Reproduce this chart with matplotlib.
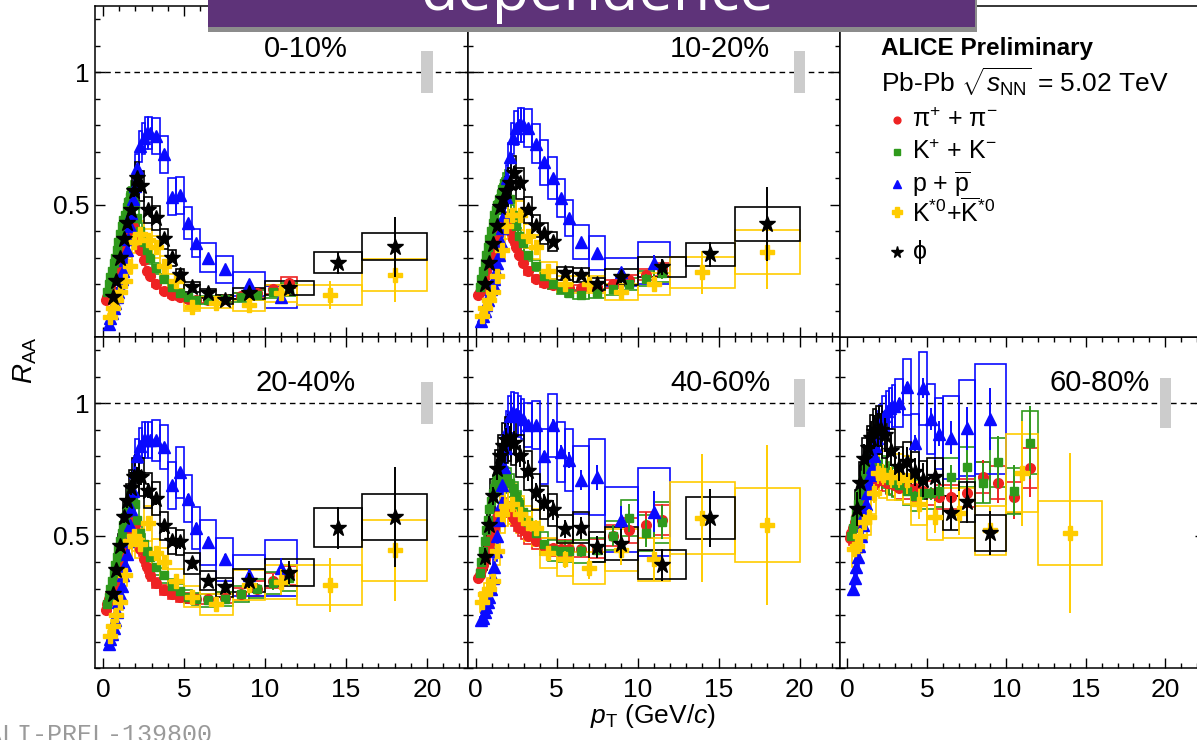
import numpy as np
import matplotlib.pyplot as plt
from matplotlib.patches import Rectangle
from matplotlib.ticker import MultipleLocator

plt.rcParams['font.family'] = ['Liberation Sans', 'DejaVu Sans']
plt.rcParams['mathtext.fontset'] = 'custom'
plt.rcParams['mathtext.rm'] = 'Liberation Sans'
plt.rcParams['mathtext.it'] = 'Liberation Sans:italic'
plt.rcParams['mathtext.bf'] = 'Liberation Sans:bold'
plt.rcParams['mathtext.sf'] = 'Liberation Sans'

nan = np.nan
centralities = ['0-10%', '10-20%', '20-40%', '40-60%', '60-80%']
norm_unc = [0.08, 0.08, 0.08, 0.09, 0.095]      # global normalisation uncertainty
stat_scale = [1.0, 1.0, 1.0, 1.3, 1.8]

# ---- pi+ + pi- ----
pi_edges = [0.1, 0.2, 0.3, 0.4, 0.5, 0.6, 0.7, 0.8, 0.9, 1.0, 1.1, 1.2, 1.3, 1.4, 1.5, 1.6, 1.7, 1.8, 1.9, 2.0,
            2.2, 2.4, 2.6, 2.8, 3.0, 3.5, 4.0, 4.5, 5.0, 5.5, 6.0, 7.0, 8.0, 9.0, 10.0, 11.0, 12.0]
raa_pi = [
    [0.14, 0.15, 0.17, 0.19, 0.21, 0.23, 0.25, 0.27, 0.29, 0.31, 0.33, 0.35, 0.37, 0.39, 0.41, 0.42, 0.43, 0.42, 0.40,
     0.37, 0.33, 0.29, 0.25, 0.23, 0.20, 0.175, 0.16, 0.15, 0.145, 0.14, 0.14, 0.145, 0.155, 0.165, 0.18, 0.205],
    [0.16, 0.17, 0.19, 0.21, 0.23, 0.25, 0.27, 0.29, 0.31, 0.33, 0.35, 0.37, 0.39, 0.41, 0.42, 0.43, 0.44, 0.44, 0.43,
     0.40, 0.37, 0.34, 0.31, 0.28, 0.25, 0.22, 0.205, 0.195, 0.19, 0.185, 0.185, 0.19, 0.20, 0.215, 0.235, 0.255],
    [0.22, 0.24, 0.26, 0.28, 0.30, 0.32, 0.34, 0.36, 0.38, 0.40, 0.42, 0.44, 0.46, 0.48, 0.50, 0.52, 0.54, 0.55, 0.54,
     0.50, 0.45, 0.41, 0.38, 0.35, 0.32, 0.295, 0.28, 0.27, 0.265, 0.26, 0.26, 0.265, 0.28, 0.30, 0.33, 0.35],
    [0.34, 0.35, 0.37, 0.39, 0.41, 0.43, 0.45, 0.47, 0.49, 0.51, 0.53, 0.55, 0.57, 0.58, 0.59, 0.60, 0.61, 0.61, 0.60,
     0.59, 0.57, 0.55, 0.53, 0.52, 0.50, 0.48, 0.46, 0.455, 0.45, 0.45, 0.45, 0.45, 0.50, 0.52, 0.54, 0.56],
    [0.49, 0.51, 0.53, 0.55, 0.57, 0.59, 0.61, 0.63, 0.65, 0.66, 0.67, 0.68, 0.69, 0.70, 0.70, 0.70, 0.70, 0.71, 0.71,
     0.71, 0.71, 0.70, 0.70, 0.69, 0.68, 0.68, 0.68, 0.67, 0.66, 0.645, 0.645, 0.66, 0.72, 0.70, 0.645, 0.755],
]
sys_pi = [0.05] * 19 + [0.06] * 7 + [0.07] * 4 + [0.07, 0.08, 0.08, 0.09, 0.09, 0.10]
stat_pi = [0.005] * 24 + [0.01, 0.01, 0.01, 0.015, 0.015, 0.02, 0.03, 0.04, 0.05, 0.06, 0.07, 0.08]

# ---- K+ + K- ----
k_edges = [0.2, 0.3, 0.4, 0.5, 0.6, 0.7, 0.8, 0.9, 1.0, 1.1, 1.2, 1.3, 1.4, 1.5, 1.6, 1.7, 1.8, 1.9, 2.0,
           2.2, 2.4, 2.6, 2.8, 3.0, 3.5, 4.0, 4.5, 5.0, 5.5, 6.0, 7.0, 8.0, 9.0, 10.0, 11.0, 12.0]
raa_k = [
    [0.17, 0.20, 0.225, 0.25, 0.28, 0.30, 0.33, 0.36, 0.39, 0.42, 0.44, 0.46, 0.49, 0.51, 0.53, 0.55, 0.53, 0.50,
     0.45, 0.40, 0.36, 0.33, 0.30, 0.26, 0.22, 0.19, 0.165, 0.15, 0.14, 0.14, 0.145, 0.15, 0.16, 0.17, 0.18],
    [0.19, 0.22, 0.25, 0.28, 0.31, 0.34, 0.37, 0.40, 0.43, 0.46, 0.48, 0.50, 0.52, 0.54, 0.56, 0.58, 0.59, 0.57,
     0.52, 0.46, 0.42, 0.38, 0.355, 0.31, 0.27, 0.23, 0.20, 0.18, 0.165, 0.16, 0.165, 0.18, 0.20, 0.22, 0.24],
    [0.24, 0.27, 0.30, 0.33, 0.36, 0.39, 0.42, 0.45, 0.48, 0.51, 0.54, 0.57, 0.60, 0.62, 0.64, 0.66, 0.65, 0.62,
     0.56, 0.51, 0.47, 0.44, 0.42, 0.38, 0.35, 0.31, 0.29, 0.27, 0.26, 0.255, 0.26, 0.28, 0.30, 0.32, 0.34],
    [0.36, 0.40, 0.44, 0.48, 0.52, 0.56, 0.60, 0.63, 0.66, 0.68, 0.70, 0.71, 0.72, 0.73, 0.73, 0.73, 0.72, 0.71,
     0.70, 0.68, 0.65, 0.62, 0.59, 0.55, 0.51, 0.47, 0.445, 0.44, 0.44, 0.44, 0.445, 0.50, 0.566, 0.51, 0.55],
    [0.50, 0.53, 0.56, 0.59, 0.62, 0.65, 0.68, 0.71, 0.73, 0.75, 0.76, 0.77, 0.78, 0.78, 0.78, 0.78, 0.77, 0.76,
     0.75, 0.74, 0.72, 0.71, 0.70, 0.69, 0.67, 0.65, 0.66, 0.66, 0.67, 0.72, 0.76, 0.70, 0.777, 0.67, 0.85],
]
sys_k = [0.07] * 18 + [0.08] * 7 + [0.09] * 4 + [0.10, 0.10, 0.11, 0.12, 0.13, 0.14]
stat_k = [0.005] * 23 + [0.01, 0.01, 0.015, 0.02, 0.02, 0.025, 0.035, 0.045, 0.06, 0.07, 0.08, 0.09]

# ---- p + pbar ----
p_edges = [0.3, 0.4, 0.5, 0.6, 0.7, 0.8, 0.9, 1.0, 1.1, 1.2, 1.3, 1.4, 1.5, 1.6, 1.7, 1.8, 1.9, 2.0,
           2.2, 2.4, 2.6, 2.8, 3.0, 3.5, 4.0, 4.5, 5.0, 5.5, 6.0, 7.0, 8.0, 10.0, 12.0]
raa_p = [
    [0.05, 0.07, 0.09, 0.11, 0.13, 0.15, 0.17, 0.19, 0.22, 0.25, 0.29, 0.33, 0.37, 0.42, 0.47, 0.52, 0.57,
     0.64, 0.72, 0.75, 0.77, 0.77, 0.76, 0.69, 0.53, 0.535, 0.43, 0.355, 0.30, 0.255, 0.20, 0.15],
    [0.06, 0.08, 0.10, 0.12, 0.14, 0.16, 0.18, 0.20, 0.22, 0.25, 0.28, 0.31, 0.36, 0.41, 0.46, 0.53, 0.60,
     0.68, 0.75, 0.79, 0.80, 0.80, 0.79, 0.73, 0.66, 0.60, 0.525, 0.45, 0.36, 0.317, 0.245, 0.28],
    [0.09, 0.11, 0.13, 0.15, 0.18, 0.21, 0.25, 0.28, 0.31, 0.35, 0.39, 0.43, 0.48, 0.54, 0.60, 0.67, 0.74,
     0.80, 0.84, 0.86, 0.86, 0.86, 0.86, 0.835, 0.69, 0.74, 0.64, 0.53, 0.475, 0.41, 0.35, 0.377],
    [0.18, 0.19, 0.21, 0.23, 0.25, 0.27, 0.30, 0.34, 0.38, 0.44, 0.50, 0.56, 0.62, 0.69, 0.76, 0.83, 0.90,
     0.95, 0.966, 0.96, 0.95, 0.94, 0.917, 0.917, 0.80, 0.917, 0.815, 0.785, 0.71, 0.72, 0.56, 0.59],
    [0.30, 0.34, 0.38, 0.42, 0.46, 0.50, 0.54, 0.58, 0.62, 0.66, 0.70, 0.73, 0.76, 0.80, 0.84, 0.87, 0.90,
     0.92, 0.95, 0.97, 0.98, 0.99, 1.00, 1.06, 0.85, 1.056, 0.94, 0.885, 0.87, 0.905, 0.94, nan],
]
sys_p = [0.08] * 22 + [0.09, 0.10, 0.13, 0.13, 0.14, 0.15, 0.18, 0.20, 0.22, 0.28]
stat_p = [0.005] * 22 + [0.01, 0.01, 0.02, 0.02, 0.025, 0.03, 0.04, 0.05, 0.07, 0.10]

# ---- K*0 + anti-K*0 ----
ks_edges = [0.3, 0.5, 0.7, 0.9, 1.2, 1.5, 1.8, 2.0, 2.5, 3.0, 3.5, 4.0, 5.0, 6.0, 8.0, 10.0, 12.0, 16.0, 20.0]
raa_ks = [
    [0.075, 0.11, 0.14, 0.17, 0.21, 0.27, 0.36, 0.39, 0.365, 0.34, 0.27, 0.21, 0.115, 0.13, 0.12, 0.165, 0.158, 0.234],
    [0.08, 0.11, 0.14, 0.17, 0.23, 0.33, 0.42, 0.46, 0.46, 0.38, 0.34, 0.25, 0.20, 0.20, 0.17, 0.20, 0.245, 0.32],
    [0.12, 0.16, 0.20, 0.25, 0.35, 0.48, 0.50, 0.47, 0.547, 0.434, 0.40, 0.33, 0.27, 0.24, 0.313, 0.325, 0.313, 0.445],
    [0.25, 0.28, 0.30, 0.33, 0.44, 0.58, 0.61, 0.62, 0.58, 0.547, 0.53, 0.434, 0.41, 0.377, 0.445, 0.41, 0.566, 0.54],
    [0.45, 0.46, 0.50, 0.55, 0.57, 0.66, 0.736, 0.73, 0.72, 0.72, 0.71, 0.62, 0.57, 0.585, 0.52, 0.735, 0.51, nan],
]
sys_ks = [0.15, 0.14, 0.13, 0.12, 0.12, 0.12, 0.12, 0.12, 0.12, 0.12, 0.13, 0.13, 0.15, 0.16, 0.18, 0.20, 0.24, 0.26]
stat_ks = [0.03] * 10 + [0.04, 0.05, 0.06, 0.08, 0.10, 0.15, 0.33, 0.43]

# ---- phi ----
phi_edges = [0.5, 0.7, 0.9, 1.2, 1.4, 1.6, 1.8, 2.0, 2.2, 2.5, 3.0, 3.5, 4.0, 4.5, 5.0, 6.0, 7.0, 8.0, 10.0, 13.0, 16.0, 20.0]
raa_phi = [
    [0.15, 0.21, 0.30, 0.37, 0.43, 0.48, 0.55, 0.60, 0.57, 0.48, 0.45, 0.37, 0.30, 0.235, 0.19, 0.165, 0.14, 0.165, 0.185, 0.28, 0.34],
    [0.20, 0.28, 0.35, 0.42, 0.49, 0.52, 0.55, 0.58, 0.62, 0.58, 0.48, 0.42, 0.39, 0.36, 0.24, 0.234, 0.20, 0.226, 0.264, 0.313, 0.426],
    [0.28, 0.37, 0.46, 0.57, 0.63, 0.68, 0.72, 0.73, 0.72, 0.67, 0.64, 0.535, 0.48, 0.475, 0.395, 0.33, 0.305, 0.33, 0.36, 0.53, 0.57],
    [0.42, 0.54, 0.65, 0.75, 0.80, 0.84, 0.86, 0.87, 0.85, 0.80, 0.745, 0.665, 0.625, 0.596, 0.525, 0.53, 0.457, 0.47, 0.39, 0.566, nan],
    [0.60, 0.70, 0.79, 0.83, 0.87, 0.89, 0.90, 0.90, 0.88, 0.82, 0.76, 0.777, 0.74, 0.71, 0.72, 0.585, 0.626, 0.51, nan, nan, nan],
]
sys_phi = [0.12, 0.11] + [0.10] * 13 + [0.11, 0.12, 0.13, 0.14, 0.14, 0.15]
stat_phi = [0.06, 0.05] + [0.04] * 11 + [0.05, 0.05, 0.06, 0.07, 0.09, 0.12, 0.15, 0.33]

legend_labels = [r'$\mathrm{\pi}^{+}$ + $\mathrm{\pi}^{-}$', r'K$^{+}$ + K$^{-}$',
                 r'p + $\overline{\mathrm{p}}$',
                 r'K$^{*0}$+$\overline{\mathrm{K}}^{*0}$', r'$\mathrm{\phi}$']

# species: edges, values, sys, stat, colour, marker, size
species = [
    (pi_edges, raa_pi, sys_pi, stat_pi, '#ee2222', 'o', 7.0),
    (k_edges, raa_k, sys_k, stat_k, '#2f9a1c', 's', 6.3),
    (p_edges, raa_p, sys_p, stat_p, '#0a0aff', '^', 8.0),
    (ks_edges, raa_ks, sys_ks, stat_ks, '#ffcc00', 'P', 10.0),
    (phi_edges, raa_phi, sys_phi, stat_phi, 'black', '*', 12.0),
]

W, H = 1197, 740
fig = plt.figure(figsize=(W / 100, H / 100), dpi=100)


def fx(px):
    return px / W


def fy(py):
    return 1 - py / H


col_left = [fx(95), fx(467.5), fx(839.5)]
col_w = [fx(372.5), fx(372.5), fx(365.5)]
row_bottom = [fy(337), fy(668)]
row_h = 331 / H

slots = [(0, 0), (0, 1), (1, 0), (1, 1), (1, 2)]
label_x = [12.5, 15.1, 12.5, 15.1, 15.9]


def style_axes(ax, r, c):
    ax.set_xlim(-0.5, 22.5)
    ax.set_ylim(0, 1.25)
    ax.xaxis.set_major_locator(MultipleLocator(5))
    ax.xaxis.set_minor_locator(MultipleLocator(1))
    ax.set_yticks([0.5, 1.0], ['0.5', '1'])
    ax.yaxis.set_minor_locator(MultipleLocator(0.1))
    ax.tick_params(which='both', direction='in', top=True, right=True, width=1.0, labelsize=19)
    ax.tick_params(which='major', length=7)
    ax.tick_params(which='minor', length=3.5)
    ax.tick_params(axis='x', pad=7)
    ax.tick_params(axis='y', pad=4)
    ax.tick_params(labelleft=(c == 0), labelbottom=(r == 1))
    for s in ax.spines.values():
        s.set_linewidth(1.1)


for ic, (r, c) in enumerate(slots):
    ax = fig.add_axes([col_left[c], row_bottom[r], col_w[c], row_h])
    style_axes(ax, r, c)
    ax.axhline(1.0, color='black', lw=1.0, ls=(0, (4, 3)), zorder=1)
    ax.add_patch(Rectangle((20 - 0.35, 1 - norm_unc[ic]), 0.7, 2 * norm_unc[ic],
                           facecolor='#cccccc', edgecolor='none', zorder=1))
    # systematic boxes first, then points with statistical bars
    for edges, vals, sysr, statr, col, mk, ms in species:
        e = np.asarray(edges)
        lo, hi = e[:-1], e[1:]
        v = np.asarray(vals[ic], dtype=float)
        ok = ~np.isnan(v)
        sr = np.asarray(sysr)
        for a, b, y, s in zip(lo[ok], hi[ok], v[ok], sr[ok]):
            ax.add_patch(Rectangle((a, y * (1 - s)), b - a, 2 * y * s, fill=False,
                                   edgecolor=col, lw=1.2, zorder=2))
    for k, (edges, vals, sysr, statr, col, mk, ms) in enumerate(species):
        e = np.asarray(edges)
        pt = 0.5 * (e[:-1] + e[1:])
        v = np.asarray(vals[ic], dtype=float)
        ok = ~np.isnan(v)
        err = v * np.asarray(statr) * stat_scale[ic]
        ax.errorbar(pt[ok], v[ok], yerr=err[ok], fmt=mk, ls='none', color=col, mec=col,
                    ms=ms, elinewidth=1.4, capsize=0, zorder=3 + k)
    ax.text(label_x[ic], 1.087 if r == 0 else 1.075, centralities[ic], fontsize=21,
            ha='center', va='center', zorder=10)

# legend panel
ax_leg = fig.add_axes([col_left[2], row_bottom[0], col_w[2], row_h])
ax_leg.set_xticks([])
ax_leg.set_yticks([])
for s in ax_leg.spines.values():
    s.set_linewidth(1.1)

fig.text(fx(881), fy(49), 'ALICE Preliminary', fontsize=17.5, fontweight='bold', ha='left', va='center')
fig.text(fx(881), fy(82), r'Pb-Pb $\sqrt{s_{\mathrm{NN}}}$ = 5.02 TeV', fontsize=19, ha='left', va='center')
leg_y = [120, 152, 184, 212, 252]
for (edges, vals, sysr, statr, col, mk, ms), lab, yy in zip(species, legend_labels, leg_y):
    ax_leg.plot([fx(897)], [fy(yy)], marker=mk, color=col, mec=col, ms=ms * 0.7, ls='none',
                transform=fig.transFigure, clip_on=False)
    fig.text(fx(912), fy(yy), lab, fontsize=18, ha='left', va='center')

# axis titles
fig.text(fx(25), fy(360), r'$R_{\mathrm{AA}}$', fontsize=20, rotation=90, ha='center', va='center')
fig.text(fx(653), fy(716), r'$p_{\mathrm{T}}$ (GeV/$c$)', fontsize=19, ha='center', va='center')

# slide banner on top
fig.add_artist(Rectangle((fx(208), fy(32)), fx(977) - fx(208), 32 / H, transform=fig.transFigure,
                         facecolor='#8c8c8c', edgecolor='none', zorder=5))
fig.add_artist(Rectangle((fx(208), fy(27)), fx(975) - fx(208), 27 / H, transform=fig.transFigure,
                         facecolor='#5e3379', edgecolor='none', zorder=6))
fig.text(fx(598), fy(10), 'dependence', color='white', fontsize=44, family='Open Sans',
         ha='center', va='baseline', zorder=7)

fig.text(fx(212), fy(742), 'ALI-PREL-139800', color='#9a9a9a', fontsize=18,
         family='Liberation Mono', ha='right', va='baseline')

fig.savefig('out.png', dpi=100)
